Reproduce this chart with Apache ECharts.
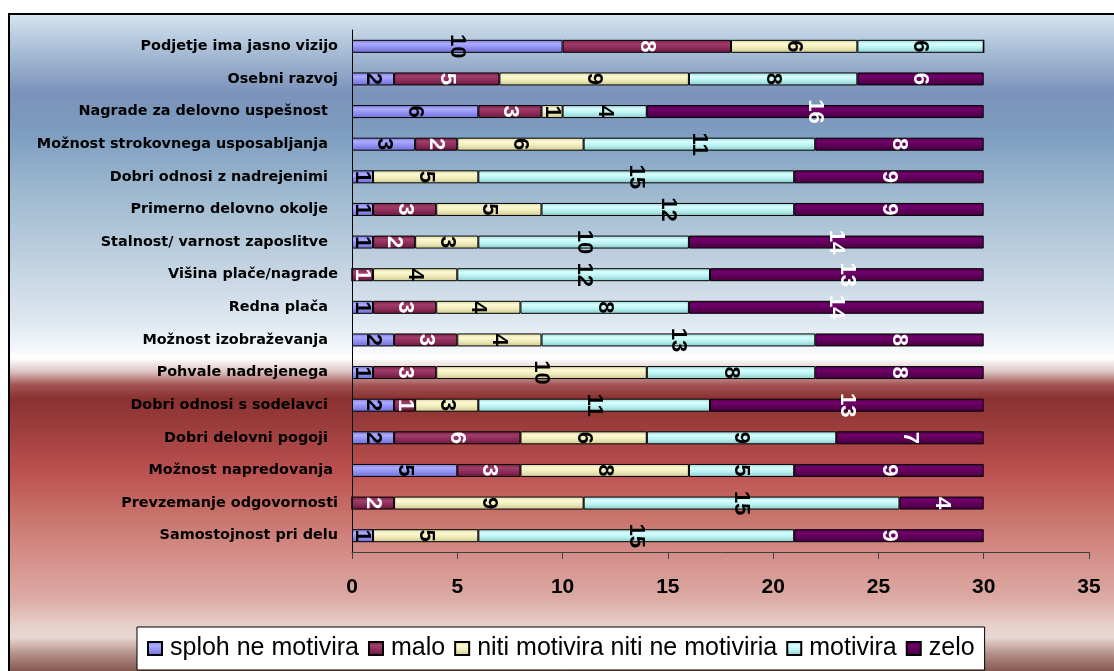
<!DOCTYPE html>
<html>
<head>
<meta charset="utf-8">
<title>Motivacijski dejavniki</title>
<script src="https://cdn.jsdelivr.net/npm/echarts@6/dist/echarts.min.js"></script>
<style>
  html, body { margin: 0; padding: 0; background: #ffffff; }
  #chart { width: 1114px; height: 671px; }
</style>
</head>
<body>
<div id="chart"></div>
<script>
// Motivation factors, top to bottom as listed on the category axis
const categories = [
  'Podjetje ima jasno vizijo',
  'Osebni razvoj',
  'Nagrade za delovno uspešnost  ',
  'Možnost strokovnega usposabljanja  ',
  'Dobri odnosi z nadrejenimi  ',
  'Primerno delovno okolje  ',
  'Stalnost/ varnost zaposlitve  ',
  'Višina plače/nagrade',
  'Redna plača  ',
  'Možnost izobraževanja  ',
  'Pohvale nadrejenega  ',
  'Dobri odnosi s sodelavci  ',
  'Dobri delovni pogoji  ',
  'Možnost napredovanja ',
  'Prevzemanje odgovornosti',
  'Samostojnost pri delu'
];

const seriesNames = ['sploh ne motivira', 'malo', 'niti motivira niti ne motiviria', 'motivira', 'zelo'];

// Number of answers per factor
const splohNeMotivira = [10, 2, 6, 3, 1, 1, 1, 0, 1, 2, 1, 2, 2, 5, 0, 1];
const malo            = [8, 5, 3, 2, 0, 3, 2, 1, 3, 3, 3, 1, 6, 3, 2, 0];
const nitiNiti        = [6, 9, 1, 6, 5, 5, 3, 4, 4, 4, 10, 3, 6, 8, 9, 5];
const motivira        = [6, 8, 4, 11, 15, 12, 10, 12, 8, 13, 8, 11, 9, 5, 15, 15];
const zelo            = [0, 6, 16, 8, 9, 9, 14, 13, 14, 8, 8, 13, 7, 9, 4, 9];

const xTicks = { min: 0, max: 35, interval: 5 };

// Shaded fills: edge, highlight, body, lower edge
const fills = [
  ['#7878d8', '#ababff', '#9090f4', '#6e6ecc'],
  ['#6c1e3e', '#a23c6a', '#8c2c5a', '#66183c'],
  ['#d6d29e', '#fdfad4', '#f0ebb8', '#ccc696'],
  ['#94d0d0', '#d8ffff', '#baf2f2', '#8cc8c8'],
  ['#480044', '#72006c', '#5e0058', '#42003e']
];
const labelColors = ['#000000', '#ffffff', '#000000', '#000000', '#ffffff'];
const seriesData = [splohNeMotivira, malo, nitiNiti, motivira, zelo];

function fill(stops) {
  return new echarts.graphic.LinearGradient(0, 0, 0, 1, [
    { offset: 0, color: stops[0] },
    { offset: 0.3, color: stops[1] },
    { offset: 0.6, color: stops[2] },
    { offset: 1, color: stops[3] }
  ]);
}

const chart = echarts.init(document.getElementById('chart'), null, { renderer: 'canvas' });

const option = {
  animation: false,
  graphic: [
    {
      type: 'rect',
      z: -10,
      silent: true,
      shape: { x: 9, y: 14, width: 1112, height: 662 },
      style: {
        stroke: '#000000',
        lineWidth: 2,
        fill: new echarts.graphic.LinearGradient(0, 0, 0, 1, [
          { offset: 0.000, color: '#d8e6f1' },
          { offset: 0.056, color: '#a9bed6' },
          { offset: 0.121, color: '#7a92ba' },
          { offset: 0.185, color: '#7f9ec0' },
          { offset: 0.268, color: '#9db8cf' },
          { offset: 0.365, color: '#bdcfdf' },
          { offset: 0.462, color: '#dde7f0' },
          { offset: 0.508, color: '#f5f8fb' },
          { offset: 0.520, color: '#ffffff' },
          { offset: 0.540, color: '#dcc4c2' },
          { offset: 0.560, color: '#a45454' },
          { offset: 0.580, color: '#8a3131' },
          { offset: 0.622, color: '#9b3d3c' },
          { offset: 0.688, color: '#bb5050' },
          { offset: 0.753, color: '#c8706a' },
          { offset: 0.816, color: '#d48e88' },
          { offset: 0.882, color: '#dcaaa4' },
          { offset: 0.920, color: '#e6cec8' },
          { offset: 0.940, color: '#e8d8d2' },
          { offset: 0.965, color: '#b49288' },
          { offset: 0.998, color: '#784840' },
          { offset: 1.000, color: '#784840' }
        ])
      }
    }
  ],
  grid: {
    left: 352,
    right: 25,
    top: 30,
    bottom: 119,
    containLabel: false
  },
  legend: {
    left: 137,
    top: 627,
    width: 860,
    itemWidth: 14,
    itemHeight: 13,
    itemGap: 9,
    padding: [9, 10, 9, 10],
    backgroundColor: '#ffffff',
    borderColor: '#000000',
    borderWidth: 1,
    borderRadius: 0,
    icon: 'rect',
    textStyle: {
      fontFamily: '"Liberation Sans", Arial, sans-serif',
      fontSize: 25,
      color: '#000000',
      padding: [0, 0, 0, 3]
    },
    data: seriesNames
  },
  xAxis: {
    type: 'value',
    min: xTicks.min,
    max: xTicks.max,
    interval: xTicks.interval,
    splitLine: { show: false },
    axisLine: { show: true, lineStyle: { color: '#404040', width: 1 } },
    axisTick: { show: true, length: 7, inside: false, lineStyle: { color: '#404040' } },
    axisLabel: {
      margin: 25,
      fontFamily: '"Liberation Sans", Arial, sans-serif',
      fontWeight: 'bold',
      fontSize: 21,
      color: '#000000'
    }
  },
  yAxis: {
    type: 'category',
    inverse: true,
    data: categories,
    axisLine: { show: true, lineStyle: { color: '#000000', width: 1 } },
    axisTick: { show: false },
    axisLabel: {
      margin: 14,
      fontFamily: '"DejaVu Sans", sans-serif',
      fontWeight: 'bold',
      fontSize: 14.4,
      color: '#000000'
    }
  },
  series: seriesNames.map((name, i) => ({
    name: name,
    type: 'bar',
    stack: 'total',
    barWidth: 13,
    data: seriesData[i],
    itemStyle: {
      color: fill(fills[i]),
      borderColor: '#000000',
      borderWidth: 1
    },
    label: {
      show: true,
      position: 'inside',
      rotate: -90,
      fontFamily: '"Liberation Sans", Arial, sans-serif',
      fontWeight: 'bold',
      fontSize: 22,
      color: labelColors[i],
      formatter: p => (p.value ? String(p.value) : '')
    },
    emphasis: { disabled: true }
  }))
};

chart.setOption(option);
</script>
</body>
</html>
